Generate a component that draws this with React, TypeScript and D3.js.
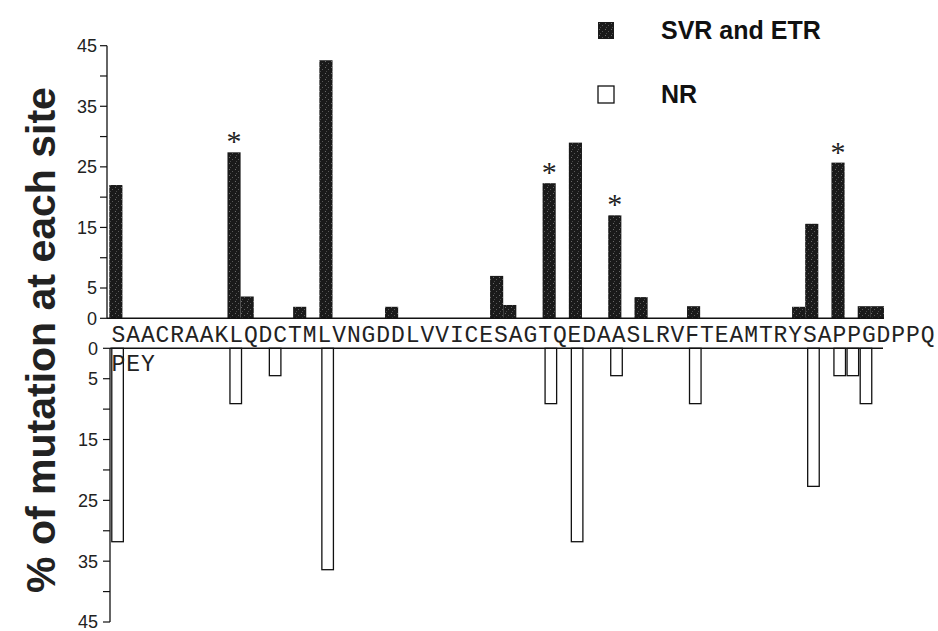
import React from "react";
import * as d3 from "d3";

const categories = "SAACRAAKLQDCTMLVNGDDLVVICESAGTQEDAASLRVFTEAMTRYSAPPGDPPQPEY".split("");
const firstLineCount = 56;

// % of mutation, SVR and ETR group (top panel)
const svrEtr = [
  22, 0, 0, 0, 0, 0, 0, 0, 0, 27.4,
  3.6, 0, 0, 0, 1.9, 0, 42.6, 0, 0, 0,
  0, 1.9, 0, 0, 0, 0, 0, 0, 0, 7.0,
  2.2, 0, 0, 22.3, 0, 29.0, 0, 0, 17.0, 0,
  3.5, 0, 0, 0, 2.0, 0, 0, 0, 0, 0,
  0, 0, 1.9, 15.6, 0, 25.7, 0, 2.0, 2.0,
];

// % of mutation, NR group (bottom panel)
const nr = [
  31.8, 0, 0, 0, 0, 0, 0, 0, 0, 9.1,
  0, 0, 4.5, 0, 0, 0, 36.4, 0, 0, 0,
  0, 0, 0, 0, 0, 0, 0, 0, 0, 0,
  0, 0, 0, 9.1, 0, 31.8, 0, 0, 4.5, 0,
  0, 0, 0, 0, 9.1, 0, 0, 0, 0, 0,
  0, 0, 0, 22.7, 0, 4.5, 4.5, 9.1, 0,
];

const significant = [9, 33, 38, 55];

const tickValues = [0, 5, 10, 15, 20, 25, 30, 35, 40, 45];
const labeledTicks = [0, 5, 15, 25, 35, 45];

const legendItems = ["SVR and ETR", "NR"];

export default function App() {
  const W = 938;
  const H = 631;
  const n = categories.length;
  const step = 13.13;

  const yTop = d3.scaleLinear().domain([0, 45]).range([318.3, 45.7]);
  const yBot = d3.scaleLinear().domain([0, 45]).range([348.3, 622]);
  const idx = d3.range(n);
  const xTop = d3.scaleBand<number>().domain(idx).range([109.3, 109.3 + n * step]).paddingInner(0).paddingOuter(0);
  const xBot = d3
    .scaleBand<number>()
    .domain(idx)
    .range([111, 111 + n * step])
    .paddingInner(0.12)
    .paddingOuter(0.06);

  const topAxisX = 107;
  const botAxisX = 110;
  const tickFont = "'Liberation Sans', Arial, sans-serif";

  const seqScale = d3.scaleLinear().domain([0, firstLineCount]).range([111, 935]);

  return (
    <svg
      width={W}
      height={H}
      style={{ position: "absolute", left: 0, top: 0, display: "block", background: "#fff" }}
    >
      <defs>
        <pattern id="speckle" width="6" height="6" patternUnits="userSpaceOnUse">
          <rect width="6" height="6" fill="#1a1a1a" />
          <rect x="1" y="1" width="1" height="1" fill="#6a6a6a" />
          <rect x="4" y="3" width="1" height="1" fill="#5a5a5a" />
          <rect x="2" y="5" width="1" height="1" fill="#4a4a4a" />
        </pattern>
      </defs>

      {/* Y title */}
      <text
        transform={`translate(55, 340) rotate(-90)`}
        textAnchor="middle"
        fontFamily={tickFont}
        fontWeight="bold"
        fontSize={41}
        fill="#222"
      >
        % of mutation at each site
      </text>

      {/* Top panel bars */}
      {svrEtr.map((v, i) =>
        v > 0 ? (
          <rect
            key={"t" + i}
            x={xTop(i)}
            y={yTop(v)}
            width={xTop.bandwidth()}
            height={yTop(0) - yTop(v)}
            fill="url(#speckle)"
          />
        ) : null
      )}

      {/* Asterisks */}
      {significant.map((i) => (
        <text
          key={"s" + i}
          x={(xTop(i) as number) + xTop.bandwidth() / 2}
          y={yTop(svrEtr[i]) - 1}
          textAnchor="middle"
          fontFamily="'Liberation Serif', serif"
          fontSize={30}
          fill="#222"
        >
          *
        </text>
      ))}

      {/* Top axis */}
      <line x1={topAxisX} x2={topAxisX} y1={yTop(45)} y2={yTop(0)} stroke="#111" strokeWidth={1.3} />
      <line x1={topAxisX} x2={xTop.range()[1]} y1={yTop(0)} y2={yTop(0)} stroke="#111" strokeWidth={1.5} />
      {tickValues.map((t) => (
        <line key={"tt" + t} x1={topAxisX - 7} x2={topAxisX} y1={yTop(t)} y2={yTop(t)} stroke="#111" strokeWidth={1.2} />
      ))}
      {labeledTicks.map((t) => (
        <text
          key={"tl" + t}
          x={97}
          y={yTop(t)}
          dy="0.36em"
          textAnchor="end"
          fontFamily={tickFont}
          fontSize={18}
          fill="#222"
        >
          {t}
        </text>
      ))}

      {/* Bottom panel bars */}
      {nr.map((v, i) =>
        v > 0 ? (
          <rect
            key={"b" + i}
            x={xBot(i)}
            y={yBot(0)}
            width={xBot.bandwidth()}
            height={yBot(v) - yBot(0)}
            fill="#fff"
            stroke="#111"
            strokeWidth={1.3}
          />
        ) : null
      )}

      {/* Bottom axis */}
      <line x1={botAxisX} x2={botAxisX} y1={yBot(0)} y2={yBot(45)} stroke="#111" strokeWidth={1.3} />
      <line x1={botAxisX} x2={883} y1={yBot(0)} y2={yBot(0)} stroke="#111" strokeWidth={1.5} />
      {tickValues.map((t) => (
        <line key={"bt" + t} x1={botAxisX - 7} x2={botAxisX} y1={yBot(t)} y2={yBot(t)} stroke="#111" strokeWidth={1.2} />
      ))}
      {labeledTicks.map((t) => (
        <text
          key={"bl" + t}
          x={98}
          y={yBot(t)}
          dy="0.36em"
          textAnchor="end"
          fontFamily={tickFont}
          fontSize={18}
          fill="#222"
        >
          {t}
        </text>
      ))}

      {/* Sequence labels */}
      {categories.map((c, i) => {
        const line = i < firstLineCount ? 0 : 1;
        const pos = line === 0 ? i : i - firstLineCount;
        return (
          <text
            key={"c" + i}
            x={seqScale(pos + 0.5)}
            y={line === 0 ? 342 : 371}
            textAnchor="middle"
            fontFamily="'Liberation Mono', monospace"
            fontSize={23}
            fill="#222"
          >
            {c}
          </text>
        );
      })}

      {/* Legend */}
      {legendItems.map((label, i) => (
        <g key={"lg" + i} transform={`translate(598, ${22 + i * 64})`}>
          <rect
            x={0}
            y={0}
            width={16}
            height={17}
            fill={i === 0 ? "url(#speckle)" : "#fff"}
            stroke="#111"
            strokeWidth={i === 0 ? 0 : 1.3}
          />
          <text x={63} y={17} fontFamily={tickFont} fontWeight="bold" fontSize={25} fill="#111">
            {label}
          </text>
        </g>
      ))}
    </svg>
  );
}
